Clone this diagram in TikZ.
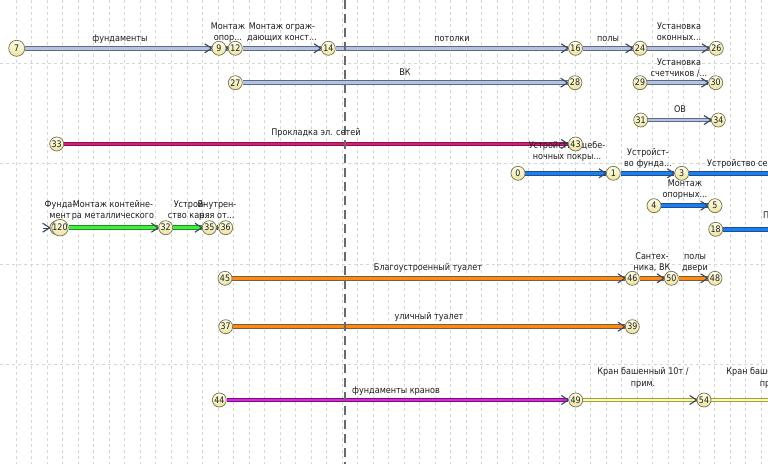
\documentclass[tikz,border=0pt]{standalone}
\usepackage{fontspec}
\setmainfont{DejaVu Sans}[FakeStretch=0.88]
\usetikzlibrary{decorations.markings}
\pgfdeclarelayer{bg}
\pgfdeclarelayer{edges}
\pgfsetlayers{bg,edges,main}
\definecolor{gbF}{HTML}{B5C3DE}
\definecolor{gbB}{HTML}{5B6B8C}
\definecolor{pkF}{HTML}{E8147C}
\definecolor{pkB}{HTML}{7A1A4A}
\definecolor{blF}{HTML}{1E7FE8}
\definecolor{blB}{HTML}{1A4E9A}
\definecolor{grF}{HTML}{3CF03C}
\definecolor{grB}{HTML}{2A8A2A}
\definecolor{orF}{HTML}{FF8A10}
\definecolor{orB}{HTML}{7A5A40}
\definecolor{mgF}{HTML}{EC1AEC}
\definecolor{mgB}{HTML}{6A1A6A}
\definecolor{ylF}{HTML}{FFFF8A}
\definecolor{ylB}{HTML}{9A9A70}
\definecolor{chevC}{HTML}{3A4560}
\definecolor{evB}{HTML}{77714F}
\definecolor{evT}{HTML}{FFFFE8}
\definecolor{evBo}{HTML}{ECE3A4}
\definecolor{txt}{HTML}{1E1E1E}
\definecolor{gridC}{HTML}{D6D6D6}
\definecolor{vdC}{HTML}{6A6A6A}
\tikzset{
  ev/.style={circle, draw=evB, line width=0.7pt, top color=evT, bottom color=evBo,
    minimum size=14pt, inner sep=0pt, font=\fontsize{9}{9}\selectfont, text=txt},
  lbl/.style={font=\fontsize{9.2}{11}\selectfont, text=txt, inner sep=0pt, align=center, anchor=base},
  chev/.style={postaction={decorate, decoration={markings, mark=at position 1 with
    {\draw[chevC, line width=1.1pt, line join=miter] (-7pt,-4.5pt) -- (0pt,0pt) -- (-7pt,4.5pt);}}}},
  act/.style 2 args={draw=#2, line width=2.6pt, preaction={draw=#1, line width=4.6pt}},
  gridl/.style={draw=gridC, line width=0.6pt, dash pattern=on 3pt off 3pt},
  vdash/.style={draw=vdC, line width=1.6pt, dash pattern=on 9pt off 5pt},
}
\begin{document}
\begin{tikzpicture}[x=1pt,y=-1pt]
\useasboundingbox (0,0) rectangle (768,464);
\clip (0,0) rectangle (768,464);
\begin{pgfonlayer}{bg}
\fill[white] (0,0) rectangle (768,464);
\foreach \k in {0,...,48} \draw[gridl] ({16.1+15.52*\k},0) -- ({16.1+15.52*\k},464);
\foreach \yy in {63.3,163.3,264.3,364.3} \draw[gridl] (0,\yy) -- (768,\yy);
\end{pgfonlayer}

% labels (base = baseline of the last line)
\node[lbl] (lA1) at (120,41) {фундаменты};
\node[lbl] (lA2) at (228,40) {Монтаж\\опор...};
\node[lbl] (lA3) at (282,40) {Монтаж ограж-\\дающих конст...};
\node[lbl] (lA4) at (452,41) {потолки};
\node[lbl] (lA5) at (608,41) {полы};
\node[lbl] (lA6) at (679,40) {Установка\\оконных...};
\node[lbl] (lB1) at (405,75) {ВК};
\node[lbl] (lB2) at (679,76.5) {Установка\\счетчиков /...};
\node[lbl] (lC1) at (680,112) {ОВ};
\node[lbl] (lD1) at (316,135.5) {Прокладка эл. сетей};
\node[lbl] (lE1) at (567,159) {Устройство щебе-\\ночных покры...};
\node[lbl] (lE2) at (648,166) {Устройст-\\во фунда...};
\node[lbl, anchor=base west] (lE3) at (707,166) {Устройство се};
\node[lbl] (lF1) at (685,197) {Монтаж\\опорных...};
\node[lbl, anchor=base west] (lG1) at (763,218.5) {П};
\node[lbl] (lH1) at (60,218) {Фунда-\\мент};
\node[lbl] (lH2) at (113,218) {Монтаж контейне-\\ра металлического};
\node[lbl] (lH3) at (190,218) {Устрой-\\ство кар...};
\node[lbl] (lH4) at (217,218) {Внутрен-\\няя от...};
\node[lbl] (lI1) at (428,270) {Благоустроенный туалет};
\node[lbl] (lI2) at (652,270.5) {Сантех-\\ника, ВК};
\node[lbl] (lI3) at (695,270.5) {полы\\двери};
\node[lbl] (lJ1) at (429,319) {уличный туалет};
\node[lbl] (lK1) at (396,393) {фундаменты кранов};
\node[lbl, font=\fontsize{9.2}{12.5}\selectfont] (lK2) at (643,386.5) {Кран башенный 10т /\\прим.};
\node[lbl, font=\fontsize{9.2}{12.5}\selectfont] (lK3) at (772,386.5) {Кран башенный 10т /\\прим.};

% events
\node[ev, minimum size=16pt] (n7) at (16.7,48.3) {7};
\node[ev] (n9) at (219,48.3) {9};
\node[ev] (n12) at (235.3,48.3) {12};
\node[ev] (n14) at (328.3,48.3) {14};
\node[ev] (n16) at (575.5,48.3) {16};
\node[ev] (n24) at (640,48.3) {24};
\node[ev] (n26) at (716.3,48.3) {26};
\node[ev] (n27) at (235.3,82.7) {27};
\node[ev] (n28) at (575,82.7) {28};
\node[ev] (n29) at (640,82.7) {29};
\node[ev] (n30) at (715.7,82.7) {30};
\node[ev] (n31) at (640.7,120) {31};
\node[ev] (n34) at (718.3,120) {34};
\node[ev] (n33) at (56.7,144) {33};
\node[ev] (n43) at (575.5,144) {43};
\node[ev] (n0) at (518,173.3) {0};
\node[ev] (n1) at (613.3,173.3) {1};
\node[ev] (n3) at (681.7,173.3) {3};
\coordinate (e3) at (800,173.3);
\node[ev] (n4) at (654,205.7) {4};
\node[ev] (n5) at (715,205.7) {5};
\node[ev] (n18) at (715.7,229.3) {18};
\coordinate (e18) at (800,229.3);
\coordinate (s119) at (43,227.7);
\node[ev] (nh) at (57,227.7) {};
\node[ev] (n120) at (60,227.7) {120};
\node[ev] (n32) at (165.7,227.7) {32};
\node[ev] (n35) at (209.3,227.7) {35};
\node[ev] (n36) at (225.7,227.7) {36};
\node[ev] (n45) at (225,278.3) {45};
\node[ev] (n46) at (632.3,278.3) {46};
\node[ev] (n50) at (671.3,278.3) {50};
\node[ev] (n48) at (715,278.3) {48};
\node[ev] (n37) at (225.7,326.7) {37};
\node[ev] (n39) at (632.3,326.7) {39};
\node[ev] (n44) at (219.3,400) {44};
\node[ev] (n49) at (575.7,400) {49};
\node[ev] (n54) at (704,400) {54};
\coordinate (e54) at (800,400);

\begin{pgfonlayer}{edges}
\draw[act={gbB}{gbF}, chev] (n7) -- (n9);
\draw[act={gbB}{gbF}, chev] (n9) -- (n12);
\draw[act={gbB}{gbF}, chev] (n12) -- (n14);
\draw[act={gbB}{gbF}, chev] (n14) -- (n16);
\draw[act={gbB}{gbF}, chev] (n16) -- (n24);
\draw[act={gbB}{gbF}, chev] (n24) -- (n26);
\draw[act={gbB}{gbF}, chev] (n27) -- (n28);
\draw[act={gbB}{gbF}, chev] (n29) -- (n30);
\draw[act={gbB}{gbF}, chev] (n31) -- (n34);
\draw[act={pkB}{pkF}, chev] (n33) -- (n43);
\draw[act={blB}{blF}, chev] (n0) -- (n1);
\draw[act={blB}{blF}, chev] (n1) -- (n3);
\draw[act={blB}{blF}] (n3) -- (e3);
\draw[act={blB}{blF}, chev] (n4) -- (n5);
\draw[act={blB}{blF}] (n18) -- (e18);
\draw[chev, chevC, line width=0.3pt] (s119) -- (nh);
\draw[act={grB}{grF}, chev] (n120) -- (n32);
\draw[act={grB}{grF}, chev] (n32) -- (n35);
\draw[act={grB}{grF}, chev] (n35) -- (n36);
\draw[act={orB}{orF}, chev] (n45) -- (n46);
\draw[act={orB}{orF}, chev] (n46) -- (n50);
\draw[act={orB}{orF}, chev] (n50) -- (n48);
\draw[act={orB}{orF}, chev] (n37) -- (n39);
\draw[act={mgB}{mgF}, chev] (n44) -- (n49);
\draw[act={ylB}{ylF}, chev] (n49) -- (n54);
\draw[act={ylB}{ylF}] (n54) -- (e54);
\coordinate (vt) at (345,0);
\coordinate (vb) at (345,464);
\draw[vdash] (vt) -- (vb);
\end{pgfonlayer}
\end{tikzpicture}
\end{document}
